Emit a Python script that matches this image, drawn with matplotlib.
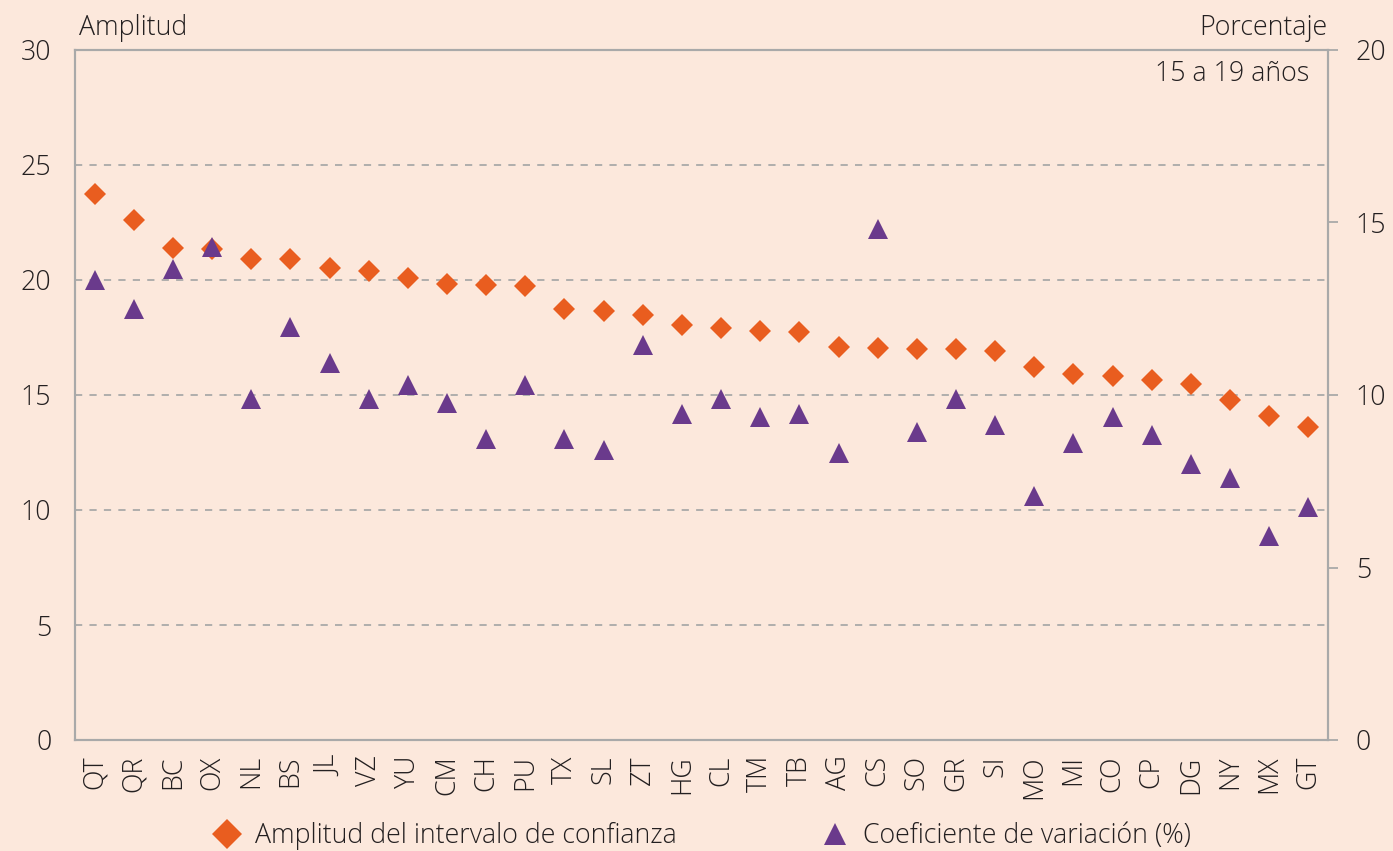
import matplotlib
matplotlib.use("Agg")
import matplotlib.pyplot as plt
from matplotlib.lines import Line2D

plt.rcParams['font.family'] = ['Open Sans', 'DejaVu Sans']
plt.rcParams['font.weight'] = 'light'

estados = ["QT", "QR", "BC", "OX", "NL", "BS", "JL", "VZ", "YU", "CM", "CH", "PU",
           "TX", "SL", "ZT", "HG", "CL", "TM", "TB", "AG", "CS", "SO", "GR", "SI",
           "MO", "MI", "CO", "CP", "DG", "NY", "MX", "GT"]

amplitud = [23.74, 22.61, 21.38, 21.35, 20.93, 20.93, 20.53, 20.38, 20.07, 19.81, 19.78, 19.74,
            18.73, 18.64, 18.49, 18.06, 17.91, 17.80, 17.74, 17.09, 17.03, 17.00, 17.00, 16.91,
            16.23, 15.91, 15.84, 15.64, 15.48, 14.77, 14.10, 13.62]

coef_var = [13.32, 12.50, 13.65, 14.28, 9.88, 11.98, 10.92, 9.88, 10.30, 9.78, 8.72, 10.30,
            8.72, 8.41, 11.45, 9.46, 9.88, 9.36, 9.46, 8.31, 14.80, 8.94, 9.88, 9.14,
            7.06, 8.62, 9.36, 8.83, 7.99, 7.58, 5.90, 6.74]

left_ticks = [0, 5, 10, 15, 20, 25, 30]
right_ticks = [0, 5, 10, 15, 20]

BG = "#FCE8DC"
ORANGE = "#E95D1F"
PURPLE = "#6A3A8C"
GRAY = "#A9A9A9"
TXT = "#231F20"
FS = 19.3
MS_D = 11.0
MS_T = 15.0

fig = plt.figure(figsize=(13.93, 8.51), dpi=100, facecolor=BG)
ax = fig.add_axes([75/1393, 1 - 740/851, (1328 - 75)/1393, (740 - 50)/851])
ax.set_facecolor(BG)
ax2 = ax.twinx()

x = list(range(len(estados)))
ax.plot(x, amplitud, linestyle="none", marker="D", markersize=MS_D,
        color=ORANGE, markeredgewidth=0, zorder=3)
ax2.plot(x, coef_var, linestyle="none", marker="^", markersize=MS_T,
         color=PURPLE, markeredgewidth=0, zorder=3)

ax.set_xlim(-0.5, len(estados) - 0.5)
ax.set_ylim(0, 30)
ax2.set_ylim(0, 20)
ax.set_yticks(left_ticks)
ax2.set_yticks(right_ticks)
ax.set_xticks(x)
ax.set_xticklabels(estados, rotation=90, fontsize=FS, color=TXT)

for yv in left_ticks[1:-1]:
    ax.axhline(yv, color=GRAY, linestyle=(0, (4, 4)), linewidth=1.3, zorder=1)

ax.tick_params(axis="y", length=0, pad=17, labelsize=FS, labelcolor=TXT)
ax.tick_params(axis="x", length=0, pad=11, labelsize=FS, labelcolor=TXT)
ax2.tick_params(axis="y", length=7, width=1.3, color=GRAY, pad=13,
                labelsize=FS, labelcolor=TXT, direction="out")

for a in (ax, ax2):
    for s in a.spines.values():
        s.set_color(GRAY)
        s.set_linewidth(1.5)

fig.text(79/1393, 1 - 28/851, "Amplitud", fontsize=FS, color=TXT, ha="left", va="center")
fig.text(1327/1393, 1 - 28/851, "Porcentaje", fontsize=FS, color=TXT, ha="right", va="center")
ax.text(0.985, 0.965, "15 a 19 años", transform=ax.transAxes, fontsize=FS,
        color=TXT, ha="right", va="center")

handles = [
    Line2D([], [], linestyle="none", marker="D", markersize=15.5, color=ORANGE, markeredgewidth=0),
    Line2D([], [], linestyle="none", marker="^", markersize=16.5, color=PURPLE, markeredgewidth=0),
]
labels = ["Amplitud del intervalo de confianza", "Coeficiente de variación (%)"]
fig.legend(handles, labels, loc="center", bbox_to_anchor=(0.503, 1 - 836/851), ncol=2,
           frameon=False, fontsize=FS, markerscale=1.0, handletextpad=0.45,
           columnspacing=5.3, handlelength=1.2, labelcolor=TXT)

fig.savefig("out.png", dpi=100, facecolor=BG)
